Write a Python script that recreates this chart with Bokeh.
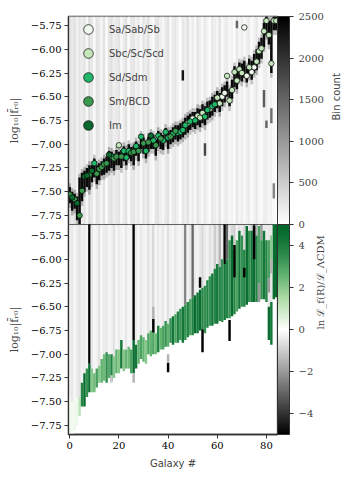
import math
from bokeh.plotting import figure
from bokeh.models import (ColumnDataSource, LinearColorMapper, ColorBar, FixedTicker,
                          Range1d, Legend, LegendItem, LinearAxis)
from bokeh.layouts import column
from bokeh.transform import transform
from bokeh.embed import file_html
from bokeh.resources import INLINE

# ---------------- data ----------------
galaxy = list(range(85))

best_log_fr0 = [
    -7.53, -7.56, -7.58, -7.62, -7.75, -7.49, -7.34, -7.33, -7.32, -7.28,
    -7.20, -7.31, -7.26, -7.24, -7.21, -7.20, -7.11, -7.13, -7.15, -7.13,
    -7.01, -7.13, -7.07, -7.14, -7.07, -7.09, -7.08, -7.02, -7.07, -6.92,
    -6.99, -7.07, -6.98, -6.91, -6.96, -7.01, -6.91, -6.94, -6.96, -6.87,
    -6.93, -6.92, -6.89, -6.86, -6.88, -6.87, -6.85, -6.80, -6.78, -6.76,
    -6.73, -6.75, -6.70, -6.72, -6.67, -6.71, -6.64, -6.63, -6.60, -6.58,
    -6.51, -6.57, -6.50, -6.46, -6.28, -6.54, -6.43, -6.24, -6.33, -6.21,
    -6.25, -5.77, -6.28, -6.19, -6.24, -6.19, -6.13, -6.02, -5.99, -5.81,
    -5.70, -5.85, -6.15, -5.70, -5.70]

# 0 Sa/Sab/Sb, 1 Sbc/Sc/Scd, 2 Sd/Sdm, 3 Sm/BCD, 4 Im
morph_type = [
    3, 4, 3, 4, 3, 3, 4, 4, 3, 4,
    2, 3, 3, 3, 3, 3, 4, 2, 3, 3,
    1, 3, 2, 2, 2, 3, 3, 2, 3, 2,
    3, 2, 3, 4, 2, 3, 2, 3, 2, 2,
    2, 3, 2, 3, 2, 2, 2, 2, 1, 2,
    0, 2, 1, 1, 1, 2, 2, 1, 2, 2,
    1, 1, 0, 0, 1, 1, 1, 1, 1, 1,
    1, 0, 0, 1, 0, 0, 1, 1, 1, 1,
    1, 1, 1, 1, 1]
type_names = ["Sa/Sab/Sb", "Sbc/Sc/Scd", "Sd/Sdm", "Sm/BCD", "Im"]

# posterior histogram (bin counts)
count_background = [
    280, 230, 320, 140, 260, 190, 300, 80, 350, 240,
    60, 280, 220, 110, 300, 40, 260, 320, 170, 240,
    280, 90, 200, 310, 50, 240, 290, 140, 210, 70,
    270, 180, 320, 110, 60, 250, 290, 170, 90, 230,
    300, 70, 200, 260, 130, 30, 240, 180, 300, 100,
    220, 60, 280, 170, 80, 230, 130, 40, 250, 180,
    110, 290, 60, 170, 210, 80, 140, 40, 240, 110,
    180, 70, 160, 210, 50, 130, 240, 90, 60, 170,
    200, 90, 140, 60, 40]
core_lo = [
    -7.62, -7.70, -7.68, -7.80, -7.85, -7.60, -7.50, -7.45, -7.48, -7.40,
    -7.35, -7.42, -7.38, -7.33, -7.32, -7.30, -7.28, -7.25, -7.28, -7.22,
    -7.22, -7.25, -7.18, -7.22, -7.15, -7.18, -7.22, -7.12, -7.18, -7.05,
    -7.10, -7.15, -7.08, -7.05, -7.05, -7.12, -7.02, -7.05, -7.06, -6.98,
    -7.05, -7.00, -6.98, -6.95, -6.97, -6.95, -6.93, -6.90, -6.88, -6.85,
    -6.82, -6.84, -6.80, -6.82, -6.78, -6.80, -6.74, -6.72, -6.70, -6.66,
    -6.62, -6.66, -6.60, -6.56, -6.50, -6.60, -6.52, -6.40, -6.42, -6.32,
    -6.34, -6.30, -6.35, -6.28, -6.32, -6.25, -6.22, -6.15, -6.10, -5.98,
    -5.85, -5.95, -6.25, -5.80, -5.80]
core_hi = [
    -7.45, -7.50, -7.52, -7.55, -7.35, -7.30, -7.28, -7.25, -7.22, -7.22,
    -7.15, -7.22, -7.20, -7.18, -7.15, -7.13, -7.07, -7.08, -7.10, -7.06,
    -7.08, -7.06, -7.02, -7.05, -7.00, -7.03, -7.02, -6.97, -7.00, -6.90,
    -6.93, -6.98, -6.92, -6.88, -6.90, -6.95, -6.86, -6.88, -6.90, -6.83,
    -6.86, -6.85, -6.82, -6.80, -6.80, -6.78, -6.76, -6.72, -6.70, -6.68,
    -6.66, -6.66, -6.62, -6.63, -6.58, -6.60, -6.55, -6.54, -6.50, -6.48,
    -6.44, -6.46, -6.40, -6.38, -6.34, -6.42, -6.32, -6.18, -6.22, -6.14,
    -6.15, -6.12, -6.18, -6.10, -6.12, -6.05, -6.00, -5.92, -5.88, -5.72,
    -5.65, -5.70, -5.70, -5.65, -5.65]
core_count = 2400
halo_count = 550
count_extra_gal = [46, 55, 68, 79, 82, 80, 83]
count_extra_lo = [-6.33, -7.12, -5.78, -6.61, -6.78, -6.83, -7.57]
count_extra_hi = [-6.22, -6.99, -5.70, -6.43, -6.62, -6.75, -7.41]
count_extra_val = [2300, 1800, 1500, 1600, 1400, 1500, 1200]

# log-likelihood ratio map
ratio_above = [
    -0.3, -0.5, -0.2, -0.4, -0.6, -0.3, -0.4, -0.2, -5.0, -0.5,
    -0.2, -0.3, -0.6, -0.2, -0.4, -0.5, -0.2, -0.3, -0.6, -0.2,
    -0.4, -0.3, -0.2, -0.5, -0.2, -0.3, -5.0, -0.4, -0.2, -0.5,
    -0.3, -0.2, -0.6, -0.3, -0.8, -0.2, -0.4, -0.3, -0.5, -0.2,
    -0.6, -0.3, -0.2, -0.5, -0.3, -0.2, -0.4, -2.5, -0.3, -0.5,
    -3.0, -0.4, -0.3, -0.5, -0.8, -0.4, -0.3, -0.6, -0.4, -1.0,
    -0.5, -1.5, -0.4, -5.0, -3.0, -0.5, -0.8, -1.0, -0.3, -0.6,
    -0.4, -0.8, -0.3, -0.5, -1.0, -4.0, -1.5, -0.4, -2.0, -0.5,
    -0.5, -0.5, -0.5, -0.3, -0.3]
green_lo = [
    -7.85, -7.85, -7.80, -7.75, -7.65, -7.55, -7.55, -7.45, -7.40, -7.40,
    -7.40, -7.35, -7.30, -7.30, -7.28, -7.30, -7.25, -7.28, -7.25, -7.20,
    -7.20, -7.15, -7.18, -7.15, -7.15, -7.20, -7.20, -7.15, -7.10, -7.05,
    -7.08, -7.10, -7.00, -7.02, -7.00, -7.00, -6.98, -6.95, -6.95, -6.92,
    -6.92, -6.88, -6.90, -6.88, -6.88, -6.85, -6.88, -6.85, -6.82, -6.80,
    -6.80, -6.78, -6.78, -6.75, -6.75, -6.78, -6.72, -6.70, -6.70, -6.68,
    -6.68, -6.65, -6.66, -6.64, -6.62, -6.62, -6.60, -6.58, -6.55, -6.52,
    -6.50, -6.50, -6.48, -6.45, -6.45, -6.45, -6.45, -6.42, -6.42, -6.42,
    -6.45, -6.85, -6.90, -6.42, -6.40]
green_hi = [
    -7.45, -7.50, -7.50, -7.45, -7.45, -7.30, -7.20, -7.15, -7.10, -7.15,
    -7.20, -7.15, -7.12, -7.05, -7.00, -6.98, -7.00, -7.00, -7.02, -6.95,
    -6.95, -6.85, -6.95, -6.95, -6.92, -6.95, -6.85, -6.90, -6.85, -6.80,
    -6.82, -6.85, -6.78, -6.75, -6.75, -6.78, -6.70, -6.72, -6.70, -6.65,
    -6.68, -6.62, -6.60, -6.58, -6.55, -6.52, -6.50, -6.48, -6.45, -6.42,
    -6.40, -6.38, -6.35, -6.32, -6.30, -6.28, -6.22, -6.18, -6.15, -6.10,
    -6.05, -6.08, -6.00, -6.05, -6.00, -5.80, -5.75, -5.90, -5.80, -5.70,
    -5.75, -5.90, -5.65, -5.70, -5.70, -5.90, -5.75, -5.65, -5.80, -5.70,
    -5.80, -6.50, -6.45, -5.63, -5.63]
green_val = [
    0.2, 0.2, 0.3, 0.3, 1.2, 3.8, 4.6, 3.4, 4.6, 2.0,
    2.4, 3.0, 2.0, 2.6, 2.4, 3.4, 2.8, 3.8, 2.0, 2.6,
    2.0, 4.2, 2.0, 2.6, 2.4, 3.0, 4.6, 4.2, 2.6, 3.0,
    2.6, 2.0, 3.0, 2.6, 3.0, 2.4, 3.8, 2.6, 3.0, 3.4,
    2.6, 3.4, 4.2, 3.0, 3.8, 3.4, 4.2, 3.4, 3.8, 3.0,
    3.8, 4.6, 4.2, 4.6, 3.8, 3.4, 3.8, 3.4, 4.2, 3.8,
    4.2, 3.8, 3.4, 4.2, 3.8, 3.4, 4.6, 3.8, 3.0, 4.2,
    3.4, 3.8, 4.6, 3.4, 4.2, 4.6, 3.8, 3.0, 3.4, 4.2,
    3.8, 4.6, 4.2, 4.6, 5.0]
ratio_extra_gal = [34, 34, 40, 40, 54, 53, 65, 67, 71, 75, 77, 81, 82, 81, 82, 26, 17]
ratio_extra_lo = [-6.77, -6.63, -7.19, -7.09, -6.98, -6.30, -6.86, -6.19, -6.19, -6.00,
                  -6.45, -6.20, -6.00, -6.35, -6.15, -7.30, -7.30]
ratio_extra_hi = [-6.63, -6.50, -7.09, -7.00, -6.74, -6.19, -6.64, -5.85, -6.09, -5.65,
                  -6.25, -5.80, -5.75, -6.20, -6.00, -7.20, -7.22]
ratio_extra_val = [-5, -1.5, -5, -1.5, -5, -5, -5, -5, -5, -5, -2, 3.0, 2.0, -2.0, -1.5, -1.5, -1.0]

y_ticks = [-7.75, -7.5, -7.25, -7.0, -6.75, -6.5, -6.25, -6.0, -5.75]
x_ticks = [0, 20, 40, 60, 80]
count_ticks = [0, 500, 1000, 1500, 2000, 2500]
ratio_ticks = [-4, -2, 0, 2, 4]

# ---------------- styling ----------------
type_colors = ["#eef8ec", "#c4e6bd", "#22b86a", "#3b9a50", "#0b6a2e"]
SERIF = "DejaVu Serif"
SANS = "DejaVu Sans"
FRAME_COL = "#333333"
Y_BOT = -7.845
Y_TOP1 = -5.655
Y_TOP2 = -5.634


def interp_stops(stops, n):
    out = []
    for k in range(n):
        t = k / (n - 1)
        for j in range(len(stops) - 1):
            t0, c0 = stops[j]
            t1, c1 = stops[j + 1]
            if t0 <= t <= t1:
                f = (t - t0) / (t1 - t0) if t1 > t0 else 0
                c = [round(c0[m] + (c1[m] - c0[m]) * f) for m in range(3)]
                out.append("#%02x%02x%02x" % tuple(c))
                break
    return out


gray_palette = interp_stops([(0, (255, 255, 255)), (1, (0, 0, 0))], 256)
neg_part = interp_stops([(0, (0, 0, 0)), (1, (255, 255, 255))], 128)
pos_part = interp_stops([(0.0, (255, 255, 255)), (0.1, (226, 243, 221)), (0.3, (172, 219, 166)),
                         (0.5, (104, 182, 116)), (0.7, (48, 142, 78)),
                         (0.85, (18, 118, 56)), (1.0, (0, 100, 40))], 128)
ratio_palette = neg_part + pos_part

count_mapper = LinearColorMapper(palette=gray_palette, low=0, high=2500)
ratio_mapper = LinearColorMapper(palette=ratio_palette, low=-5, high=5)


def minus(v, fmt):
    s = fmt % abs(v)
    return ("\u2212" + s) if v < 0 else s


def style_axes(p):
    for ax in p.yaxis + p.xaxis:
        ax.major_label_text_font = SERIF
        ax.major_label_text_font_size = "10px"
        ax.major_label_text_color = "black"
        ax.major_tick_in = 0
        ax.major_tick_out = 4
        ax.minor_tick_line_color = None
        ax.major_tick_line_color = FRAME_COL
        ax.axis_line_color = FRAME_COL
        ax.axis_line_width = 1.3
        ax.major_label_standoff = 3
    p.yaxis.ticker = FixedTicker(ticks=y_ticks)
    p.yaxis.major_label_overrides = {t: minus(t, "%.2f") for t in y_ticks}
    p.yaxis.axis_label = "log\u2081\u2080|f\u0304\u1d63\u2080|"
    p.yaxis.axis_label_text_font = SERIF
    p.yaxis.axis_label_text_font_size = "11px"
    p.yaxis.axis_label_text_font_style = "normal"
    p.yaxis.axis_label_standoff = 7
    p.grid.visible = False
    p.outline_line_color = FRAME_COL
    p.outline_line_width = 1.3
    p.background_fill_color = "white"


def quads(gals, lo, hi, vals, key):
    return ColumnDataSource({
        "left": [g - 0.5 for g in gals],
        "right": [g + 0.5 for g in gals],
        "bottom": list(lo),
        "top": list(hi),
        key: list(vals),
    })


def colorbar(mapper, ticks, fmt):
    return ColorBar(color_mapper=mapper, ticker=FixedTicker(ticks=ticks), width=12,
                    padding=0, margin=0, major_tick_in=0, major_tick_out=4,
                    major_tick_line_color=FRAME_COL, bar_line_color=FRAME_COL, bar_line_width=1,
                    major_label_text_font=SERIF, major_label_text_font_size="10px",
                    label_standoff=5, border_line_color=None, background_fill_alpha=0,
                    major_label_overrides={t: minus(t, fmt) for t in ticks})


def side_label(p, text, font, standoff):
    ax = LinearAxis(ticker=FixedTicker(ticks=[]), axis_line_color=None,
                    major_tick_line_color=None, minor_tick_line_color=None,
                    axis_label=text, axis_label_text_font=font,
                    axis_label_text_font_size="10px", axis_label_text_font_style="normal",
                    axis_label_standoff=standoff, major_label_text_font_size="0px")
    try:
        ax.axis_label_orientation = math.pi / 2
    except Exception:
        pass
    p.add_layout(ax, "right")


# ---------------- top panel ----------------
p1 = figure(frame_width=209, frame_height=208, min_border_left=68, min_border_top=16,
            min_border_bottom=6, min_border_right=40, x_axis_location=None,
            x_range=Range1d(-0.5, 84.5), y_range=Range1d(Y_BOT, Y_TOP1),
            output_backend="svg", toolbar_location=None)
p1.border_fill_color = "white"

ng = len(galaxy)
p1.quad(source=quads(galaxy, [Y_BOT] * ng, [Y_TOP2] * ng, count_background, "count"),
        left="left", right="right", bottom="bottom", top="top",
        fill_color=transform("count", count_mapper), line_color=None)
p1.quad(source=quads(galaxy, [v - 0.05 for v in core_lo], [v + 0.04 for v in core_hi],
                     [b + halo_count for b in count_background], "count"),
        left="left", right="right", bottom="bottom", top="top",
        fill_color=transform("count", count_mapper), line_color=None)
p1.quad(source=quads(galaxy, core_lo, core_hi, [core_count] * ng, "count"),
        left="left", right="right", bottom="bottom", top="top",
        fill_color=transform("count", count_mapper), line_color=None)
p1.quad(source=quads(count_extra_gal, count_extra_lo, count_extra_hi, count_extra_val, "count"),
        left="left", right="right", bottom="bottom", top="top",
        fill_color=transform("count", count_mapper), line_color=None)

items = []
for k, name in enumerate(type_names):
    xs = [g for g in galaxy if morph_type[g] == k]
    ys = [best_log_fr0[g] for g in galaxy if morph_type[g] == k]
    r = p1.scatter(xs, ys, size=5.5, fill_color=type_colors[k], line_color="black",
                   line_width=0.7)
    items.append(LegendItem(label=name, renderers=[r]))

legend = Legend(items=items, location="top_left", margin=1, padding=0,
                glyph_width=38, glyph_height=24, spacing=-7, label_standoff=2,
                label_text_font=SANS, label_text_font_size="10px",
                background_fill_alpha=0, border_line_color=None)
p1.add_layout(legend)

style_axes(p1)
p1.add_layout(colorbar(count_mapper, count_ticks, "%d"), "right")
side_label(p1, "Bin count", SANS, 10)

# ---------------- bottom panel ----------------
p2 = figure(frame_width=209, frame_height=210, min_border_left=68, min_border_top=0,
            min_border_right=40, min_border_bottom=38,
            x_range=p1.x_range, y_range=Range1d(Y_BOT, Y_TOP2),
            output_backend="svg", toolbar_location=None)
p2.border_fill_alpha = 0
p2.margin = (-6, 0, 0, 0)

p2.quad(source=quads(galaxy, green_hi, [Y_TOP2] * ng, ratio_above, "ratio"),
        left="left", right="right", bottom="bottom", top="top",
        fill_color=transform("ratio", ratio_mapper), line_color=None)
p2.quad(source=quads(galaxy, green_lo, green_hi, green_val, "ratio"),
        left="left", right="right", bottom="bottom", top="top",
        fill_color=transform("ratio", ratio_mapper), line_color=None)
p2.quad(source=quads(ratio_extra_gal, ratio_extra_lo, ratio_extra_hi, ratio_extra_val, "ratio"),
        left="left", right="right", bottom="bottom", top="top",
        fill_color=transform("ratio", ratio_mapper), line_color=None)

style_axes(p2)
p2.xaxis.ticker = FixedTicker(ticks=x_ticks)
p2.xaxis.axis_label = "Galaxy #"
p2.xaxis.axis_label_text_font = SANS
p2.xaxis.axis_label_text_font_size = "10px"
p2.xaxis.axis_label_text_font_style = "normal"
p2.xaxis.axis_label_standoff = 6
p2.add_layout(colorbar(ratio_mapper, ratio_ticks, "%d"), "right")
side_label(p2, "ln \u2112_f(R)/\u2112_\u039bCDM", SERIF, 4)

layout = column(p1, p2, spacing=0)
open("out.html", "w").write(file_html(layout, INLINE))
